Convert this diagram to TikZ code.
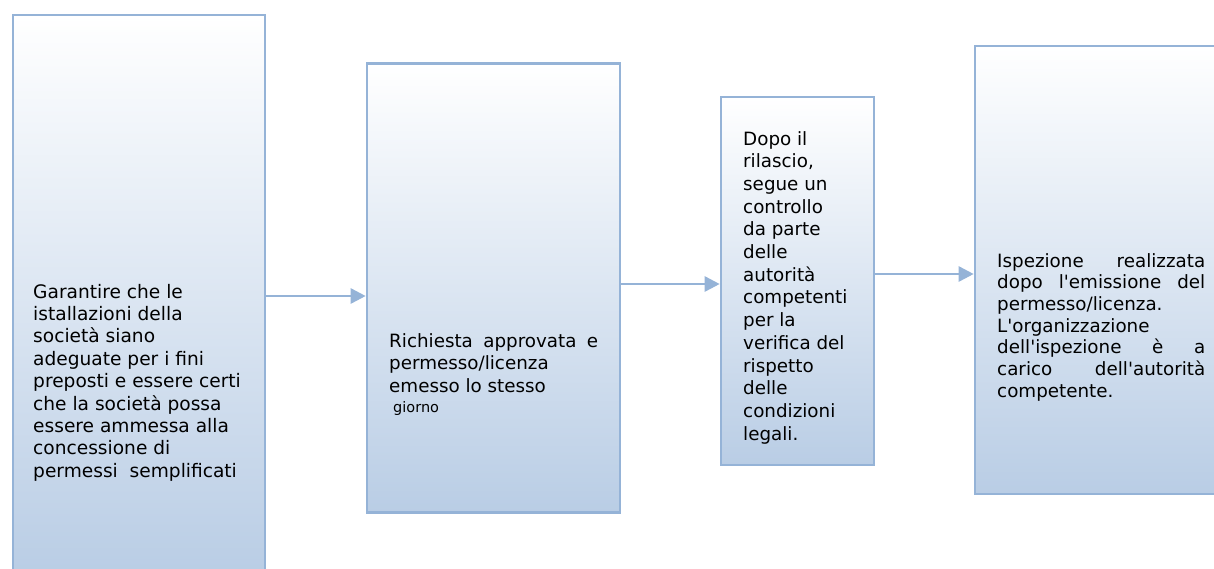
\documentclass[tikz,border=0pt]{standalone}
\usepackage{fontspec}
\setmainfont{DejaVu Sans}[Ligatures=TeXOff]
\usetikzlibrary{arrows.meta}
\definecolor{bordc}{RGB}{149,179,215}
\definecolor{botc}{RGB}{185,205,229}
\tikzset{
  stepbox/.style={draw=bordc, line width=2.6pt, top color=white, bottom color=botc, rectangle, inner sep=0pt},
  flow/.style={draw=bordc, line width=2.6pt, -{Triangle[length=15pt,width=15pt]}},
  txt/.style={anchor=base west, inner sep=0pt}
}
\newcommand{\jl}[1]{\makebox[\linewidth][s]{#1}}
\begin{document}
\begin{tikzpicture}[x=1pt,y=-1pt]
\useasboundingbox (0,0) rectangle (1214,568);
\clip (0,0) rectangle (1214,568);
\node[stepbox, minimum width=252pt, minimum height=560pt] (b1) at (139,295) {};
\node[stepbox, minimum width=253pt, minimum height=449pt] (b2) at (493.5,288) {};
\node[stepbox, minimum width=153pt, minimum height=368pt] (b3) at (797.5,281) {};
\node[stepbox, minimum width=247pt, minimum height=448pt] (b4) at (1098.5,270) {};

\draw[flow] (b1.east |- 0,296) -- (b2.west |- 0,296);
\draw[flow] (b2.east |- 0,284) -- (b3.west |- 0,284);
\draw[flow] (b3.east |- 0,274) -- (b4.west |- 0,274);

\node[txt] (t1) at (33,298) {\parbox[t]{228pt}{\fontsize{18.6}{22.4}\selectfont\raggedright
Garantire che le\\
istallazioni della\\
società siano\\
adeguate per i fini\\
preposti e essere certi\\
che la società possa\\
essere ammessa alla\\
concessione di\\
permessi\ \ semplificati}};

\node[txt] (t2) at (389,347) {\parbox[t]{209pt}{\fontsize{18.3}{22.5}\selectfont\raggedright
\jl{Richiesta approvata e}\\
permesso/licenza\\
emesso lo stesso\\[-2pt]
{\fontsize{14.5}{18}\selectfont\hspace*{4pt}giorno}}};

\node[txt] (t3) at (743,145) {\parbox[t]{128pt}{\fontsize{18.3}{22.7}\selectfont\raggedright
Dopo il\\
rilascio,\\
segue un\\
controllo\\
da parte\\
delle\\
autorità\\
competenti\\
per la\\
verifica del\\
rispetto\\
delle\\
condizioni\\
legali.}};

\node[txt] (t4) at (997,267) {\parbox[t]{208pt}{\fontsize{18.3}{21.7}\selectfont\raggedright
\jl{Ispezione realizzata}\\
\jl{dopo l'emissione del}\\
permesso/licenza.\\
L'organizzazione\\
\jl{dell'ispezione è a}\\
\jl{carico dell'autorità}\\
competente.}};
\end{tikzpicture}
\end{document}
